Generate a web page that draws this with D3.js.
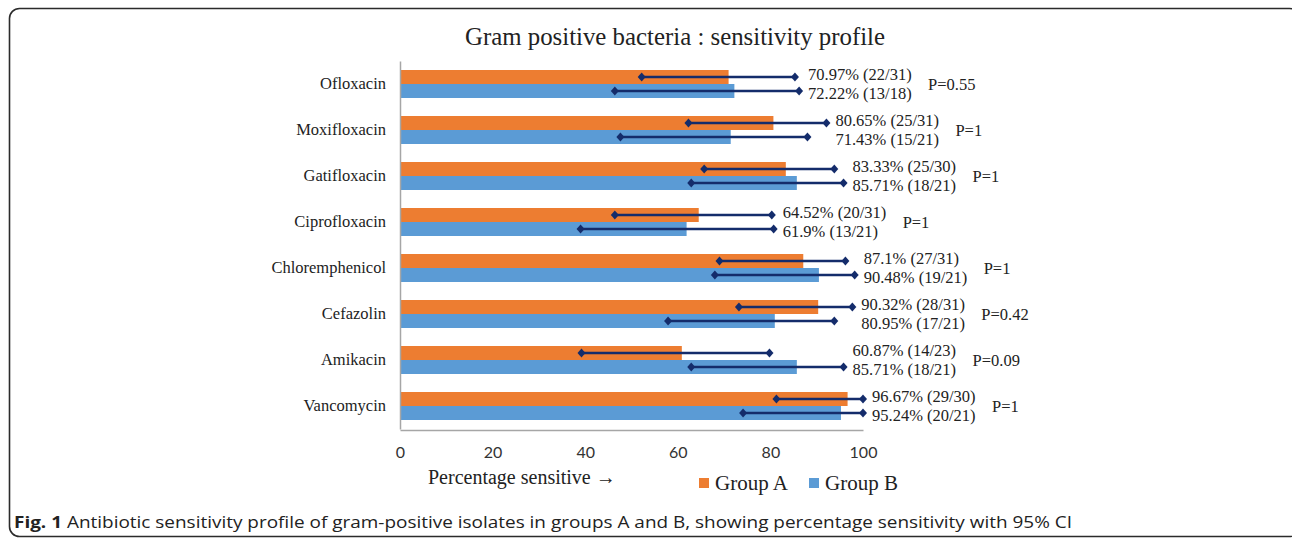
<!DOCTYPE html>
<html><head><meta charset="utf-8">
<script src="https://cdn.jsdelivr.net/npm/d3@7"></script>
<style>body{margin:0;background:#fff}</style>
</head><body><svg id="c" width="1292" height="540"></svg>
<script>
const categories = ["Ofloxacin","Moxifloxacin","Gatifloxacin","Ciprofloxacin","Chloremphenicol","Cefazolin","Amikacin","Vancomycin"];
const seriesNames = ["Group A","Group B"];
const groupA = [70.97, 80.65, 83.33, 64.52, 87.1, 90.32, 60.87, 96.67];
const groupB = [72.22, 71.43, 85.71, 61.9, 90.48, 80.95, 85.71, 95.24];
const ciLowA  = [52.2, 62.3, 65.7, 46.4, 69.0, 73.2, 39.2, 81.3];
const ciHighA = [85.3, 92.1, 93.8, 80.3, 96.2, 97.7, 79.8, 100];
const ciLowB  = [46.4, 47.6, 62.9, 39.0, 68.0, 57.9, 62.9, 74.1];
const ciHighB = [86.2, 88.0, 95.8, 80.7, 98.2, 93.8, 95.8, 100];
const countsA = ["22/31","25/31","25/30","20/31","27/31","28/31","14/23","29/30"];
const countsB = ["13/18","15/21","18/21","13/21","19/21","17/21","18/21","20/21"];
const pValues = ["P=0.55","P=1","P=1","P=1","P=1","P=0.42","P=0.09","P=1"];
const xTicks = [0,20,40,60,80,100];

const colors = {"Group A":"#ed7d31","Group B":"#5b9bd5"};
const errColor = "#142c6b";
const serif = "'Liberation Serif','Times New Roman',serif";

const svg = d3.select("#c");
svg.append("rect").attr("x",9.5).attr("y",8.5).attr("width",1290).attr("height",528)
  .attr("rx",10).attr("fill","#fff").attr("stroke","#2b2b2b").attr("stroke-width",1.6);

const x = d3.scaleLinear().domain([0,100]).range([400,863]);
const y = d3.scaleBand().domain(categories).range([61,429]).paddingInner(18/46).paddingOuter(9/46);
const ys = d3.scaleBand().domain(seriesNames).range([0,y.bandwidth()]);

svg.append("text").attr("x",465).attr("y",45)
  .attr("font-family",serif).attr("font-size",26).attr("fill","#222")
  .attr("textLength",420).attr("lengthAdjust","spacingAndGlyphs")
  .text("Gram positive bacteria : sensitivity profile");

const rows = categories.map((c,i)=>({c,
  s:[{k:"Group A",v:groupA[i],lo:ciLowA[i],hi:ciHighA[i],n:countsA[i]},
     {k:"Group B",v:groupB[i],lo:ciLowB[i],hi:ciHighB[i],n:countsB[i]}],
  p:pValues[i]}));

const g = svg.append("g");
const cat = g.selectAll("g.cat").data(rows).join("g").attr("class","cat")
  .attr("transform",d=>`translate(0,${y(d.c)})`);
cat.selectAll("rect").data(d=>d.s).join("rect")
  .attr("x",x(0)).attr("y",d=>ys(d.k)).attr("width",d=>x(d.v)-x(0))
  .attr("height",ys.bandwidth()).attr("fill",d=>colors[d.k]);

// axes
const xAxis = svg.append("g").attr("transform","translate(0,430)")
  .call(d3.axisBottom(x).tickValues(xTicks).tickSize(0).tickPadding(17).tickFormat(d3.format("d")));
xAxis.select(".domain").attr("stroke","#a6a6a6").attr("stroke-width",1.5);
xAxis.selectAll("text").attr("font-family","Lato,'Open Sans',sans-serif").attr("font-size",16).attr("fill","#333");

const yAxis = svg.append("g").attr("transform","translate(400,0)")
  .call(d3.axisLeft(y).tickSize(0).tickPadding(14));
yAxis.select(".domain").attr("stroke","#a6a6a6").attr("stroke-width",1.5);
yAxis.selectAll("text").attr("font-family",serif).attr("font-size",16.5).attr("fill","#222");

// error bars
const diamond = "M0,-4.5L4,0L0,4.5L-4,0Z";
const eb = cat.selectAll("g.eb").data(d=>d.s).join("g").attr("class","eb")
  .attr("transform",d=>`translate(0,${ys(d.k)+ys.bandwidth()/2})`);
eb.append("line").attr("x1",d=>x(d.lo)).attr("x2",d=>x(d.hi)).attr("stroke",errColor).attr("stroke-width",2.5);
eb.append("path").attr("d",diamond).attr("transform",d=>`translate(${x(d.lo)},0)`).attr("fill",errColor);
eb.append("path").attr("d",diamond).attr("transform",d=>`translate(${x(d.hi)},0)`).attr("fill",errColor);

// data labels
cat.each(function(d){
  const gx = x(d3.max(d.s,s=>s.hi)) + 9;
  const sel = d3.select(this);
  d.s.forEach((s,j)=>{
    sel.append("text").attr("x",gx).attr("y",ys(s.k)+ys.bandwidth()/2 + (j===0?-3:2))
      .attr("dy","0.35em").attr("font-family",serif).attr("font-size",16.5).attr("fill","#222")
      .text(`${s.v}% (${s.n})`);
  });
  sel.append("text").attr("x",gx+120).attr("y",y.bandwidth()/2).attr("dy","0.35em")
    .attr("font-family",serif).attr("font-size",16.5).attr("fill","#222").text(d.p);
});

// axis title
svg.append("text").attr("x",428).attr("y",484).attr("font-family",serif).attr("font-size",20)
  .attr("fill","#222").text("Percentage sensitive \u2192");

// legend
const leg = svg.append("g").selectAll("g").data(seriesNames).join("g")
  .attr("transform",(d,i)=>`translate(${699+i*110},0)`);
leg.append("rect").attr("x",0).attr("y",478).attr("width",10).attr("height",10).attr("fill",d=>colors[d]);
leg.append("text").attr("x",16).attr("y",490).attr("font-family",serif).attr("font-size",21)
  .attr("fill","#222").text(d=>d);

// caption
const cap = svg.append("text").attr("x",14).attr("y",528).attr("font-family","'Open Sans',sans-serif")
  .attr("font-size",16.5).attr("fill","#222").attr("textLength",1058).attr("lengthAdjust","spacingAndGlyphs");
cap.append("tspan").attr("font-weight","bold").text("Fig. 1");
cap.append("tspan").text(" Antibiotic sensitivity profile of gram-positive isolates in groups A and B, showing percentage sensitivity with 95% CI");
</script></body></html>
